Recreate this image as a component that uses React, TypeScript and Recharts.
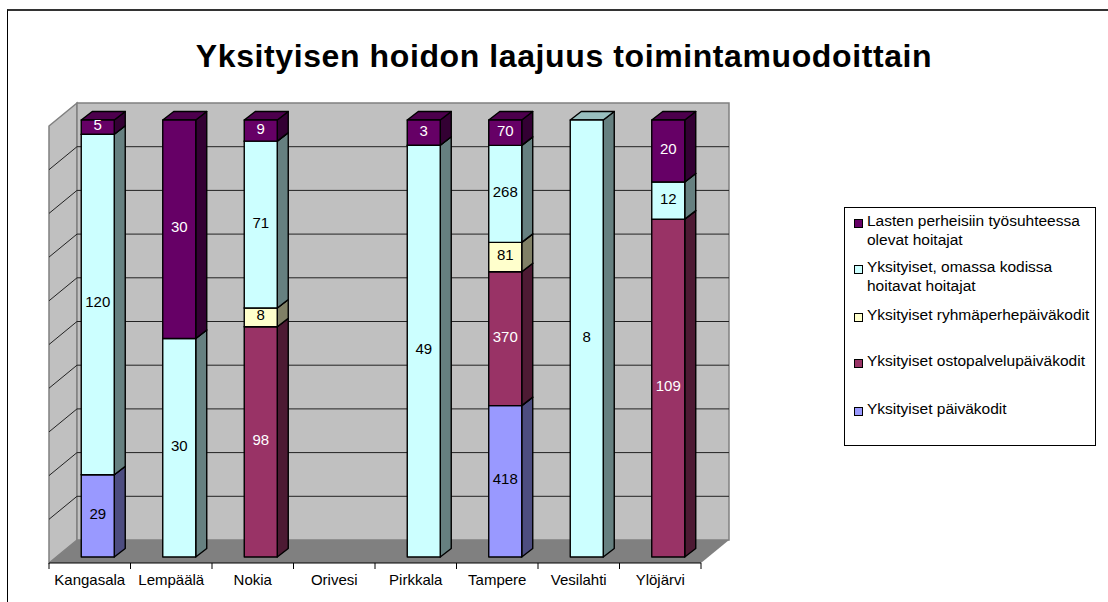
import * as React from "react"
import { BarChart, Bar, XAxis, YAxis, CartesianGrid, LabelList } from "recharts"

const categories = ["Kangasala", "Lempäälä", "Nokia", "Orivesi", "Pirkkala", "Tampere", "Vesilahti", "Ylöjärvi"]
const paivakodit = [29, 0, 0, 0, 0, 418, 0, 0]
const ostopalvelu = [0, 0, 98, 0, 0, 370, 0, 109]
const ryhmaperhe = [0, 0, 8, 0, 0, 81, 0, 0]
const omassaKodissa = [120, 30, 71, 0, 49, 268, 8, 12]
const lastenPerheisiin = [5, 30, 9, 0, 3, 70, 0, 20]
const yTicks = [0, 0.1, 0.2, 0.3, 0.4, 0.5, 0.6, 0.7, 0.8, 0.9, 1]

const data = categories.map((name, i) => ({
  name,
  paivakodit: paivakodit[i],
  ostopalvelu: ostopalvelu[i],
  ryhmaperhe: ryhmaperhe[i],
  omassaKodissa: omassaKodissa[i],
  lastenPerheisiin: lastenPerheisiin[i],
}))

// bottom to top of the stack
const series = [
  { key: "paivakodit", name: "Yksityiset päiväkodit", front: "#9999ff", side: "#4d4d80", top: "#7373bf", text: "#000" },
  { key: "ostopalvelu", name: "Yksityiset ostopalvelupäiväkodit", front: "#993366", side: "#4d1a33", top: "#73264d", text: "#fff" },
  { key: "ryhmaperhe", name: "Yksityiset ryhmäperhepäiväkodit", front: "#ffffcc", side: "#808066", top: "#bfbf99", text: "#000" },
  { key: "omassaKodissa", name: "Yksityiset, omassa kodissa hoitavat hoitajat", front: "#ccffff", side: "#668080", top: "#99bfbf", text: "#000" },
  { key: "lastenPerheisiin", name: "Lasten perheisiin työsuhteessa olevat hoitajat", front: "#660066", side: "#330033", top: "#4d004d", text: "#fff" },
]

const FONT = "'Liberation Sans', Arial, sans-serif"

// plot rectangle of the front plane
const LEFT = 49
const RIGHT = 701
const TOP = 126
const BOTTOM = 563
// depth of the box, and of the bars standing in it
const WALL_DX = 28
const WALL_DY = 23
const BAR_SHIFT_X = 8
const BAR_SHIFT_Y = 6
const BAR_DX = 11
const BAR_DY = 8.5

const legendTops = [210.5, 256.5, 304.5, 350.5, 398.5]

const pts = (list: number[][]) => list.map((p) => p.join(",")).join(" ")

// sits under the transparent chart
const Walls = () => (
  <svg width={1108} height={602} style={{ position: "absolute", left: 0, top: 0 }}>
    <polygon
      points={pts([[LEFT, TOP], [LEFT + WALL_DX, TOP - WALL_DY], [LEFT + WALL_DX, BOTTOM - WALL_DY], [LEFT, BOTTOM]])}
      fill="#c0c0c0"
      stroke="#808080"
      strokeWidth={1.5}
    />
    <rect
      x={LEFT + WALL_DX}
      y={TOP - WALL_DY}
      width={RIGHT - LEFT}
      height={BOTTOM - TOP}
      fill="#c0c0c0"
      stroke="#808080"
      strokeWidth={1.5}
    />
    <polygon
      points={pts([[LEFT, BOTTOM], [RIGHT, BOTTOM], [RIGHT + WALL_DX, BOTTOM - WALL_DY], [LEFT + WALL_DX, BOTTOM - WALL_DY]])}
      fill="#808080"
    />
  </svg>
)

const gridLine = (props: any) => {
  const { y1, index } = props
  if (Math.abs(y1 - TOP) < 1 || Math.abs(y1 - BOTTOM) < 1) return <g key={index} />
  return (
    <g key={index} stroke="#222" strokeWidth={1} fill="none">
      <line x1={LEFT} y1={y1} x2={LEFT + WALL_DX} y2={y1 - WALL_DY} />
      <line x1={LEFT + WALL_DX} y1={y1 - WALL_DY} x2={RIGHT + WALL_DX} y2={y1 - WALL_DY} />
    </g>
  )
}

const makeBox = (s: (typeof series)[number]) => (props: any) => {
  const { x, y, width, height } = props
  if (!height || height <= 0) return <g />
  const x0 = x + BAR_SHIFT_X
  const y0 = y - BAR_SHIFT_Y
  const x1 = x0 + width
  const y1 = y0 + height
  return (
    <g stroke="#000" strokeWidth={1.4} strokeLinejoin="round">
      <polygon points={pts([[x1, y0], [x1 + BAR_DX, y0 - BAR_DY], [x1 + BAR_DX, y1 - BAR_DY], [x1, y1]])} fill={s.side} />
      <polygon points={pts([[x0, y0], [x0 + BAR_DX, y0 - BAR_DY], [x1 + BAR_DX, y0 - BAR_DY], [x1, y0]])} fill={s.top} />
      <rect x={x0} y={y0} width={width} height={height} fill={s.front} />
    </g>
  )
}

const makeLabel = (color: string) => (props: any) => {
  const { x, y, width, height, value } = props
  if (!value) return null
  return (
    <text
      x={x + BAR_SHIFT_X + width / 2}
      y={y - BAR_SHIFT_Y + height / 2 + 3}
      textAnchor="middle"
      fontSize={15}
      fontFamily={FONT}
      fill={color}
    >
      {value}
    </text>
  )
}

const CategoryTick = (props: any) => {
  const { x, payload, index, visibleTicksCount, width } = props
  const band = width / visibleTicksCount
  return (
    <g>
      <line x1={x - band / 2} y1={BOTTOM} x2={x - band / 2} y2={BOTTOM + 6} stroke="#000" />
      {index === visibleTicksCount - 1 && <line x1={x + band / 2} y1={BOTTOM} x2={x + band / 2} y2={BOTTOM + 6} stroke="#000" />}
      <text x={x} y={BOTTOM + 22} textAnchor="middle" fontSize={15} fontFamily={FONT} fill="#000">
        {payload.value}
      </text>
    </g>
  )
}

const LegendBox = () => (
  <div
    style={{
      position: "absolute",
      left: 844,
      top: 207,
      boxSizing: "border-box",
      width: 252,
      height: 239,
      border: "1px solid #000",
      background: "#fff",
      fontFamily: FONT,
      fontSize: 15.5,
      lineHeight: "19px",
      color: "#000",
    }}
  >
    {[...series].reverse().map((s, i) => (
      <div key={s.key} style={{ position: "absolute", left: 9, top: legendTops[i] - 208, display: "flex" }}>
        <span
          style={{
            flex: "none",
            boxSizing: "border-box",
            width: 9,
            height: 9,
            marginTop: 8,
            marginRight: 4,
            background: s.front,
            border: "1px solid #000",
          }}
        />
        <span style={{ width: 226, whiteSpace: "normal" }}>{s.name}</span>
      </div>
    ))}
  </div>
)

export default function App() {
  return (
    <div style={{ position: "absolute", left: 0, top: 0, width: 1108, height: 602, background: "#fff", overflow: "hidden" }}>
      <div style={{ position: "absolute", left: 7, top: 9, width: 1101, height: 593, borderLeft: "1px solid #000", borderTop: "2px solid #333" }} />
      <div
        style={{
          position: "absolute",
          left: 0,
          width: 1128,
          top: 38,
          textAlign: "center",
          fontFamily: FONT,
          fontWeight: "bold",
          fontSize: 32,
          letterSpacing: 0.6,
          lineHeight: "36px",
          color: "#000",
        }}
      >
        Yksityisen hoidon laajuus toimintamuodoittain
      </div>
      <Walls />
      <div style={{ position: "absolute", left: 0, top: 0 }}>
        <BarChart
          width={1108}
          height={602}
          data={data}
          stackOffset="expand"
          barCategoryGap="29.75%"
          margin={{ left: LEFT, right: 1108 - RIGHT, top: TOP, bottom: 0 }}
        >
          <CartesianGrid vertical={false} horizontal={gridLine} />
          <XAxis
            dataKey="name"
            axisLine={{ stroke: "#000" }}
            tickLine={false}
            tick={<CategoryTick />}
            interval={0}
            height={602 - BOTTOM}
          />
          <YAxis hide domain={[0, 1]} ticks={yTicks} width={0} />
          {series.map((s) => (
            <Bar key={s.key} dataKey={s.key} stackId="a" isAnimationActive={false} shape={makeBox(s)}>
              <LabelList dataKey={s.key} content={makeLabel(s.text)} />
            </Bar>
          ))}
        </BarChart>
      </div>
      <LegendBox />
    </div>
  )
}
